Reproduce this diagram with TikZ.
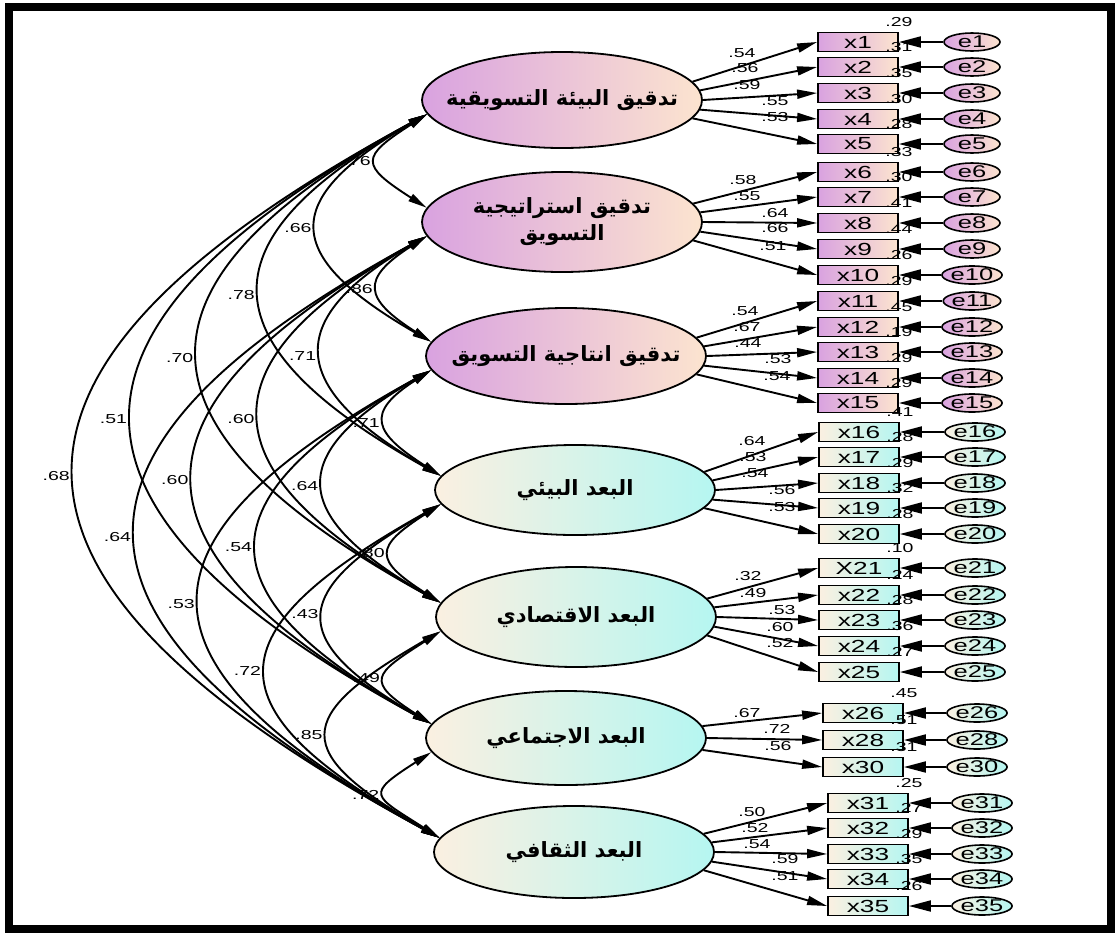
\documentclass[tikz,border=0pt]{standalone}
\usepackage{fontspec}
\setmainfont{Liberation Sans}[FakeStretch=1.5]
\newfontfamily\arabicfont[Script=Arabic]{DejaVu Sans}
\TeXXeTstate=1
\usepackage{tikz}
\usetikzlibrary{shapes.geometric}
\usetikzlibrary{arrows.meta}
\definecolor{vio}{HTML}{D9A2E0}
\definecolor{peach}{HTML}{FCE4CF}
\definecolor{cream}{HTML}{FBF0E1}
\definecolor{aqua}{HTML}{B5F6F1}
\newcommand{\arlabel}[1]{\makebox[0pt]{\arabicfont\bfseries\beginR #1\endR}}

\begin{document}
\begin{tikzpicture}[
    x=1pt, y=-1pt,
    lat/.style={ellipse, draw, line width=1.8pt, minimum width=280pt,
      minimum height=96pt, inner sep=0pt, font=\fontsize{21}{27}\selectfont},
    latA/.style={lat, left color=vio, right color=peach},
    latB/.style={lat, left color=cream, right color=aqua},
    obs/.style={rectangle, draw, line width=1.8pt, minimum width=80pt,
      minimum height=19pt, inner sep=0pt, font=\fontsize{17.5}{17.5}\selectfont},
    obsA/.style={obs, left color=vio, right color=peach},
    obsB/.style={obs, left color=cream, right color=aqua},
    err/.style={ellipse, draw, line width=1.6pt, minimum width=56pt,
      minimum height=18pt, inner sep=0pt, font=\fontsize{17}{17}\selectfont},
    errA/.style={err, left color=vio, right color=peach},
    errB/.style={err, left color=cream, right color=aqua},
    num/.style={font=\fontsize{13}{13}\selectfont, inner sep=1pt},
    load/.style={-{Triangle[length=20pt,width=9pt]}, line width=1.9pt},
    errarr/.style={-{Triangle[length=22pt,width=11pt]}, line width=1.9pt},
    cov/.style={{Triangle[length=19pt,width=8pt]}-{Triangle[length=19pt,width=8pt]}, line width=1.9pt}
    ]
\fill[white] (0,0) rectangle (1119,935);
\useasboundingbox (0,0) rectangle (1119,935);
\draw[line width=8pt] (9,7) rectangle (1111,929);

% latent variables
\node[latA] (L1) at (562,100) {\arlabel{تدقيق البيئة التسويقية}};
\node[latA, minimum height=100pt] (L2) at (562,222) {\makebox[0pt]{\arabicfont\bfseries
    \begin{tabular}{@{}c@{}}\beginR تدقيق استراتيجية\endR\\\beginR التسويق\endR\end{tabular}}};
\node[latA] (L3) at (566,356) {\arlabel{تدقيق انتاجية التسويق}};
\node[latB, minimum height=90pt] (L4) at (575,490) {\arlabel{البعد البيئي}};
\node[latB, minimum height=100pt] (L5) at (576,617) {\arlabel{البعد الاقتصادي}};
\node[latB, minimum height=94pt] (L6) at (566,738) {\arlabel{البعد الاجتماعي}};
\node[latB, minimum height=92pt] (L7) at (574,852) {\arlabel{البعد الثقافي}};

% observed variables, errors and R^2
\foreach \n/\t/\bx/\ex/\y/\r/\s in {
    1/x1/858/972/42/.29/A, 2/x2/858/972/67/.31/A, 3/x3/858/972/93/.35/A,
    4/x4/858/972/119/.30/A, 5/x5/858/972/144/.28/A, 6/x6/858/972/172/.33/A,
    7/x7/858/972/197/.30/A, 8/x8/858/972/223/.41/A, 9/x9/858/972/249/.44/A,
    10/x10/858/972/275/.26/A, 11/x11/858/972/301/.29/A, 12/x12/858/972/327/.45/A,
    13/x13/858/972/352/.19/A, 14/x14/858/972/378/.29/A, 15/x15/858/972/403/.29/A,
    16/x16/859/975/432/.41/B, 17/x17/859/975/457/.28/B, 18/x18/859/975/483/.29/B,
    19/x19/859/975/508/.32/B, 20/x20/859/975/534/.28/B, 21/X21/859/975/568/.10/B,
    22/x22/859/975/595/.24/B, 23/x23/859/975/620/.28/B, 24/x24/859/975/646/.36/B,
    25/x25/859/975/672/.27/B, 26/x26/863/977/713/.45/B, 28/x28/863/977/740/.51/B,
    30/x30/863/977/767/.31/B, 31/x31/868/982/803/.25/B, 32/x32/868/982/828/.27/B,
    33/x33/868/982/854/.29/B, 34/x34/868/982/879/.35/B, 35/x35/868/982/906/.26/B}{
  \node[obs\s] (x\n) at (\bx,\y) {\t};
  \node[err\s] (e\n) at (\ex,\y) {e\n};
  \node[num] at ([yshift=10pt]x\n.north east) {\r};
}
\foreach \n in {1,...,26,28,30,31,32,33,34,35}
  \draw[errarr] (e\n) -- (x\n);

% loadings
\foreach \l/\a/\n/\v/\lx/\ly in {
    1/8/1/.54/742/53, 1/4/2/.56/745/68, 1/0/3/.59/747/85, 1/-4/4/.55/775/101, 1/-8/5/.53/775/117,
    2/8/6/.58/743/180, 2/4/7/.55/747/196, 2/0/8/.64/775/213, 2/-4/9/.66/775/228, 2/-8/10/.51/773/246,
    3/8/11/.54/745/311, 3/4/12/.67/747/327, 3/0/13/.44/748/343, 3/-4/14/.53/778/359, 3/-8/15/.54/777/376,
    4/8/16/.64/752/441, 4/4/17/.53/753/457, 4/0/18/.54/755/473, 4/-4/19/.56/782/490, 4/-8/20/.53/782/507,
    5/8/21/.32/748/576, 5/4/22/.49/753/593, 5/0/23/.53/782/610, 5/-4/24/.60/780/627, 5/-8/25/.52/780/643,
    6/5/26/.67/747/713, 6/0/28/.72/777/729, 6/-5/30/.56/778/746,
    7/8/31/.50/752/812, 7/4/32/.52/755/828, 7/0/33/.54/757/844, 7/-4/34/.59/785/859, 7/-8/35/.51/785/876}{
  \node[num] at (\lx,\ly) {\v};
  \draw[load] (L\l.\a) -- (x\n.west);
}

% covariances
\foreach \i/\j/\v in {1/2/.76, 1/3/.66, 1/4/.78, 1/5/.70, 1/6/.51, 1/7/.68,
    2/3/.86, 2/4/.71, 2/5/.60, 2/6/.60, 2/7/.64, 3/4/.71, 3/5/.64, 3/6/.54, 3/7/.53,
    4/5/.80, 4/6/.43, 4/7/.72, 5/6/.49, 5/7/.85, 6/7/.72}{
  \pgfmathsetmacro\c{82*(\j-\i)-15}
  \pgfmathsetmacro\h{43*(\j-\i)}
  \draw[cov] (L\i.186) .. controls +(-\c,\h) and +(-\c,-\h) .. (L\j.174)
    node[pos=.5, left=4pt, num] {\v};
}
\end{tikzpicture}
\end{document}
